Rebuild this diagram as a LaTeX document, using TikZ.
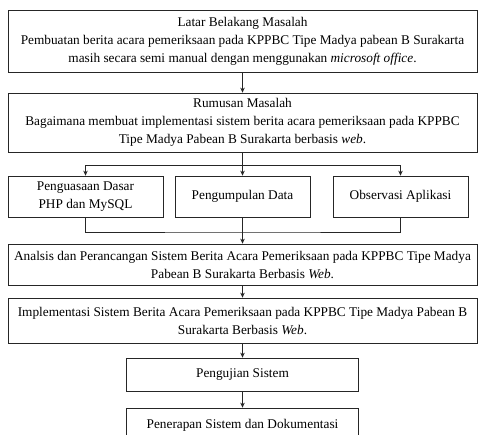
\documentclass[tikz,border=0pt]{standalone}
\usepackage{fontspec}
\setmainfont{Liberation Serif}
\usetikzlibrary{arrows.meta}

\tikzset{
  kotak/.style={draw=black!85,line width=0.7pt,inner sep=0pt,align=center,
    font=\fontsize{13.3}{18}\selectfont},
  panah/.style={draw=black!85,line width=0.7pt,-{Stealth[length=5pt,width=4.5pt]}},
  garis/.style={draw=black!85,line width=0.7pt}
}

\begin{document}
\begin{tikzpicture}[x=1pt,y=-1pt]

\clip (0,0) rectangle (478,434);
\useasboundingbox (0,0) rectangle (478,434);

\node[kotak,minimum width=469,minimum height=62] (latar) at (242.5,41)
  {Latar Belakang Masalah\\
   Pembuatan berita acara pemeriksaan pada KPPBC Tipe Madya pabean B Surakarta\\
   masih secara semi manual dengan menggunakan \textit{microsoft office}.};

\node[kotak,minimum width=469,minimum height=59] (rumusan) at (242.5,122.5)
  {Rumusan Masalah\\
   Bagaimana membuat implementasi sistem berita acara pemeriksaan pada KPPBC\\
   Tipe Madya Pabean B Surakarta berbasis \textit{web}.};

\node[kotak,minimum width=155,minimum height=41] (dasar) at (85.5,196.5)
  {Penguasaan Dasar\\PHP dan MySQL};
\node[kotak,minimum width=135,minimum height=41] (data) at (242.5,196.5)
  {Pengumpulan Data};
\node[kotak,minimum width=135,minimum height=41] (observasi) at (400.5,196.5)
  {Observasi Aplikasi};

\node[kotak,minimum width=469,minimum height=41] (analisis) at (242.5,264.5)
  {Analsis dan Perancangan Sistem Berita Acara Pemeriksaan pada KPPBC Tipe Madya\\
   Pabean B Surakarta Berbasis \textit{Web}.};

\node[kotak,minimum width=469,minimum height=45] (implementasi) at (242.5,320.5)
  {Implementasi Sistem Berita Acara Pemeriksaan pada KPPBC Tipe Madya Pabean B\\
   Surakarta Berbasis \textit{Web}.};

\node[kotak,minimum width=232,minimum height=33] (pengujian) at (242.5,374.5)
  {Pengujian Sistem};

\node[kotak,minimum width=232,minimum height=37,text depth=0pt] (penerapan) at (242.5,426.5)
  {\raisebox{6pt}{Penerapan Sistem dan Dokumentasi}};

% cabang
\coordinate (pecah) at (242.5,165);
\coordinate (gabung) at (242.5,232);

\draw[panah] (latar) -- (rumusan);
\draw[panah] (rumusan) -- (data);
\draw[panah] (pecah) -| (dasar);
\draw[panah] (pecah) -| (observasi);

\draw[garis] (dasar) |- (gabung) -| (observasi);
\draw[panah] (data) -- (analisis);

\draw[panah] (analisis) -- (implementasi);
\draw[panah] (implementasi) -- (pengujian);
\draw[panah] (pengujian) -- (penerapan);

\end{tikzpicture}
\end{document}
